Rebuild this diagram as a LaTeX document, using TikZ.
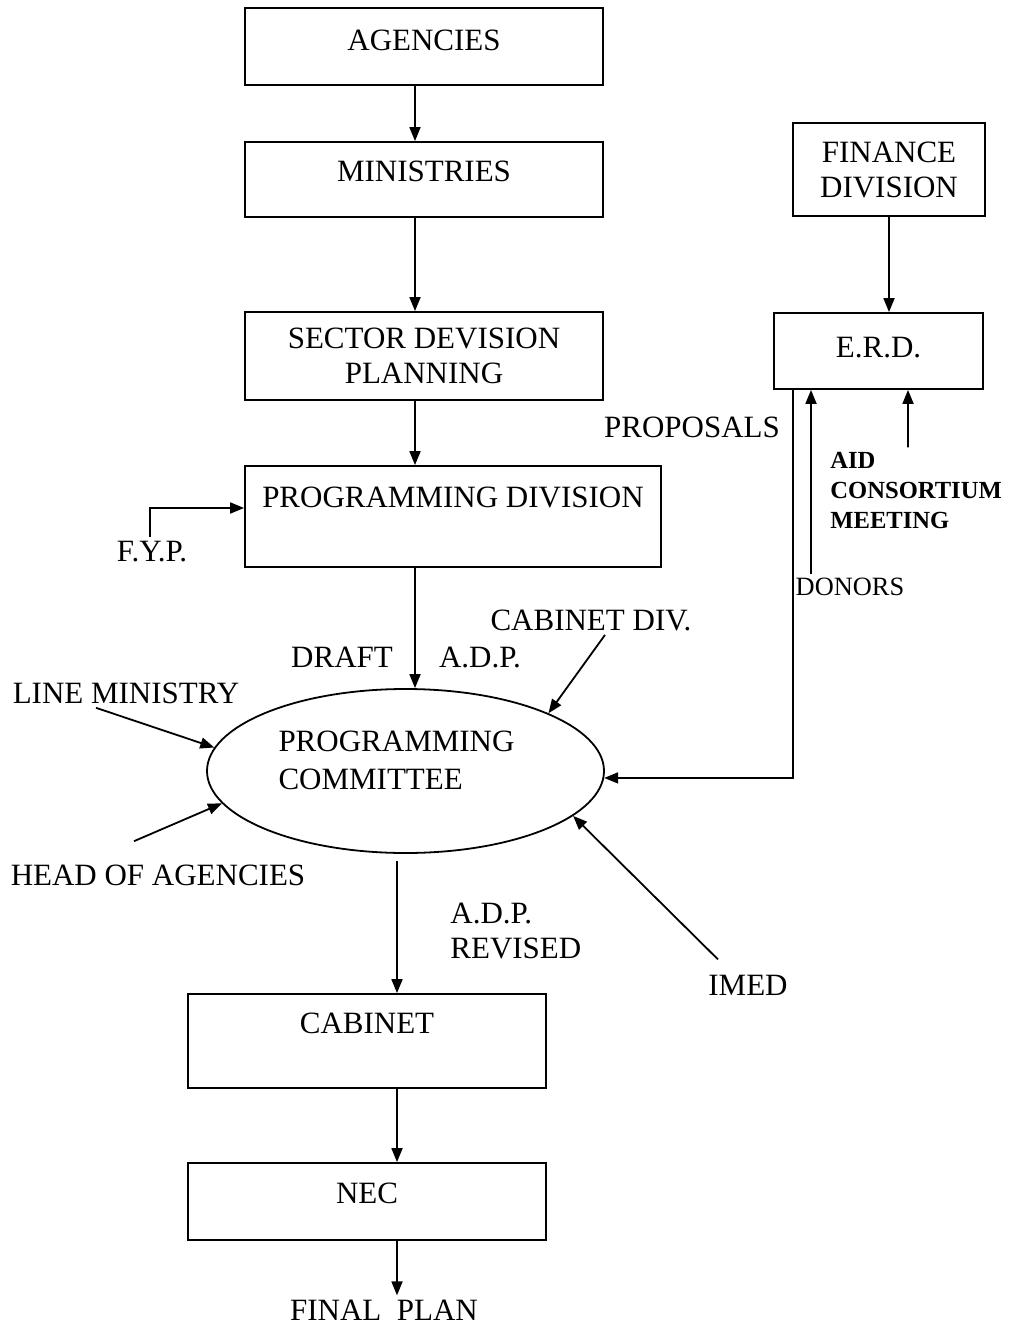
\documentclass[tikz,border=0pt]{standalone}
\usepackage{fontspec}
\setmainfont{Liberation Serif}
\usetikzlibrary{arrows.meta,shapes.geometric}
\begin{document}
\begin{tikzpicture}[x=0.5pt,y=-0.5pt,
  every node/.style={font=\fontsize{15.5}{17.5}\selectfont, inner sep=2pt},
  box/.style={draw, line width=0.9pt, rectangle, inner sep=0pt, align=center},
  sbox/.style={box, text height=10.3pt},
  arr/.style={line width=0.9pt, -{Triangle[length=7pt,width=5.5pt]}}]
\useasboundingbox (0,0) rectangle (1009,1326);
% boxes
\node[sbox, minimum width=179pt, minimum height=38.5pt, text depth=6.5pt] (agencies) at (424,46.5) {AGENCIES};
\node[sbox, minimum width=179pt, minimum height=37.5pt, text depth=8.5pt] (ministries) at (424,179.5) {MINISTRIES};
\node[box, minimum width=179pt, minimum height=44pt] (sector) at (424,356) {SECTOR DEVISION\\PLANNING};
\node[sbox, minimum width=208pt, minimum height=50.5pt, text depth=19.5pt] (progdiv) at (453,516.5) {PROGRAMMING DIVISION};
\node[box, minimum width=96pt, minimum height=46.5pt] (finance) at (889,169.5) {FINANCE\\DIVISION};
\node[sbox, minimum width=104.5pt, minimum height=38pt, text depth=4pt] (erd) at (878.5,351) {E.R.D.};
\node[sbox, minimum width=179pt, minimum height=47pt, text depth=18pt] (cabinet) at (367,1041) {CABINET};
\node[sbox, minimum width=179pt, minimum height=38.5pt, text depth=8.5pt] (nec) at (367,1201.5) {NEC};
\node[draw, ellipse, line width=0.9pt, minimum width=198.5pt, minimum height=82pt, inner sep=0pt] (pc) at (405.5,771) {};
\node[align=left, font=\fontsize{15.5}{19}\selectfont] (pctext) at (396.5,760) {PROGRAMMING\\COMMITTEE};
% labels
\node (proposals) at (692,427) {PROPOSALS};
\node[anchor=west, align=left, font=\fontsize{12.3}{15}\selectfont\bfseries] (aid) at (826,490) {AID\\CONSORTIUM\\MEETING};
\node[font=\fontsize{13.2}{15}\selectfont] (donors) at (850,587) {DONORS};
\node (fyp) at (152,552) {F.Y.P.};
\node (draft) at (342,657) {DRAFT};
\node (adp) at (480,657) {A.D.P.};
\node (cabdiv) at (591,620) {CABINET DIV.};
\node (linemin) at (126,693) {LINE MINISTRY};
\node (head) at (158,875) {HEAD OF AGENCIES};
\node (imed) at (748,985) {IMED};
\node[align=left, anchor=west] (adprev) at (446,931) {A.D.P.\\REVISED};
\node (final) at (384,1310) {FINAL\ \ PLAN};
% connectors
\draw[arr] ([xshift=-4.5pt]agencies.south) -- ([xshift=-4.5pt]ministries.north);
\draw[arr] ([xshift=-4.5pt]ministries.south) -- ([xshift=-4.5pt]sector.north);
\draw[arr] ([xshift=-4.5pt]sector.south) -- ([xshift=-19pt]progdiv.north);
\draw[arr] ([xshift=-19pt]progdiv.south) -- ([xshift=-19pt]progdiv.south |- pc.north);
\draw[arr] ([xshift=-1pt]fyp.north) |- ([yshift=4.25pt]progdiv.west);
\draw[arr] ([xshift=7pt]cabdiv.south) -- (pc.22);
\draw[arr] ([xshift=-15pt]linemin.south) -- (pc.173);
\draw[arr] ([xshift=-12pt,yshift=9.5pt]head.north) -- (pc.190);
\draw[arr] ([xshift=-15pt,yshift=5.5pt]imed.north) -- (pc.345);
\draw[arr] ([xshift=-42.75pt]erd.south) |- (pc.358);
\draw[arr] ([xshift=-19.5pt]donors.north) -- ([xshift=-33.75pt]erd.south);
\draw[arr] ([xshift=-4pt]aid.north) -- ([xshift=14.75pt]erd.south);
\draw[arr] (finance.south) -- (finance.south |- erd.north);
\draw[arr] ([xshift=-4.25pt,yshift=-3.5pt]pc.south) -- ([xshift=15pt]cabinet.north);
\draw[arr] ([xshift=15pt]cabinet.south) -- ([xshift=15pt]nec.north);
\draw[arr] ([xshift=15pt]nec.south) -- ([xshift=15pt]nec.south |- final.north);
\end{tikzpicture}
\end{document}
